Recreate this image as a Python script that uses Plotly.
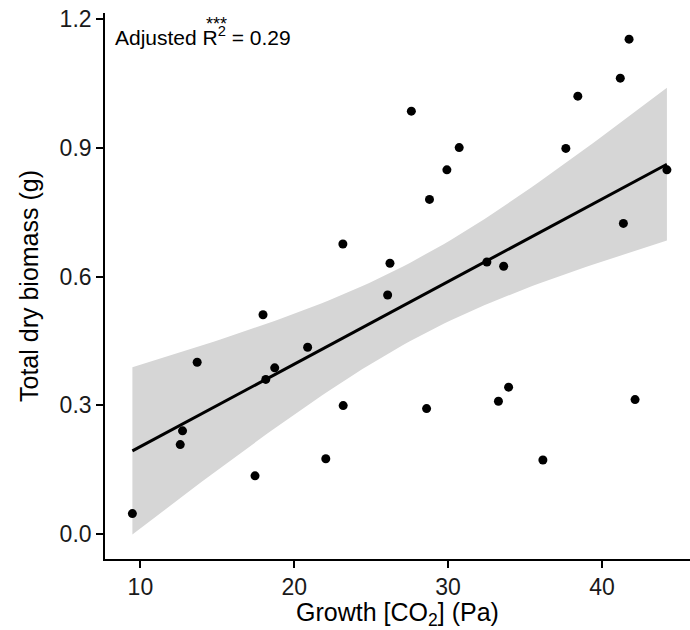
import numpy as np
import plotly.graph_objects as go

# Data
co2 = [9.48, 12.74, 12.59, 13.69, 17.97, 17.45, 18.15, 18.73, 20.87, 22.05,
       23.18, 26.07, 23.16, 26.22, 41.76, 41.19, 38.43, 27.61, 30.72, 37.65,
       29.92, 44.22, 28.79, 41.39, 32.52, 33.61, 28.60, 33.27, 33.93, 42.15, 36.16]
biomass = [0.047, 0.240, 0.208, 0.400, 0.511, 0.135, 0.360, 0.387, 0.435, 0.175,
           0.299, 0.557, 0.676, 0.631, 1.154, 1.063, 1.021, 0.986, 0.901, 0.899,
           0.849, 0.849, 0.780, 0.724, 0.634, 0.624, 0.292, 0.309, 0.342, 0.313, 0.172]
x_ticks = [10, 20, 30, 40]
y_ticks = [0.0, 0.3, 0.6, 0.9, 1.2]
y_tick_text = ["0.0", "0.3", "0.6", "0.9", "1.2"]

# Linear model fit with 95% confidence band (as geom_smooth(method="lm"))
x = np.array(co2)
y = np.array(biomass)
n = len(x)
b, a = np.polyfit(x, y, 1)
resid = y - (a + b * x)
s = np.sqrt(np.sum(resid ** 2) / (n - 2))
xm = x.mean()
sxx = np.sum((x - xm) ** 2)
t_crit = 2.045
xf = np.linspace(x.min(), x.max(), 80)
yf = a + b * xf
se = s * np.sqrt(1.0 / n + (xf - xm) ** 2 / sxx)
upper = yf + t_crit * se
lower = yf - t_crit * se

font_family = "Liberation Sans, Arial, sans-serif"

fig = go.Figure()
fig.add_trace(go.Scatter(
    x=np.concatenate([xf, xf[::-1]]), y=np.concatenate([upper, lower[::-1]]),
    fill="toself", fillcolor="#D6D6D6", line=dict(width=0), mode="lines",
    hoverinfo="skip", showlegend=False))
fig.add_trace(go.Scatter(
    x=x, y=y, mode="markers", marker=dict(color="black", size=9),
    showlegend=False))
fig.add_trace(go.Scatter(
    x=xf, y=yf, mode="lines", line=dict(color="black", width=3),
    showlegend=False))

fig.update_layout(
    width=690, height=630,
    margin=dict(l=105, r=0, t=13, b=71),
    paper_bgcolor="white", plot_bgcolor="white",
    font=dict(family=font_family, size=22, color="black"),
    showlegend=False,
    xaxis=dict(
        range=[7.7, 45.72], tickvals=x_ticks, ticktext=[str(v) for v in x_ticks],
        showline=True, linecolor="black", linewidth=1.6,
        ticks="outside", ticklen=7, tickwidth=1.6, tickcolor="black",
        showgrid=False, zeroline=False,
        tickfont=dict(size=23, color="#1a1a1a"),
        title=dict(text="Growth [CO<sub>2</sub>] (Pa)", font=dict(size=25), standoff=1),
    ),
    yaxis=dict(
        range=[-0.059, 1.215], tickvals=y_ticks, ticktext=y_tick_text,
        showline=True, linecolor="black", linewidth=1.6,
        ticks="outside", ticklen=7, tickwidth=1.6, tickcolor="black",
        showgrid=False, zeroline=False,
        tickfont=dict(size=23, color="#1a1a1a"),
        title=dict(text="Total dry biomass (g)", font=dict(size=25), standoff=14),
    ),
)

fig.add_annotation(
    xref="paper", yref="paper", x=0.013, y=0.957, xanchor="left", yanchor="middle",
    text="Adjusted R<sup>2</sup> = 0.29", showarrow=False,
    font=dict(size=21, color="black"))
fig.add_annotation(
    xref="paper", yref="paper", x=0.19, y=0.979, xanchor="center", yanchor="middle",
    text="***", showarrow=False, font=dict(size=18, color="black"))

fig.write_html("out.html")
